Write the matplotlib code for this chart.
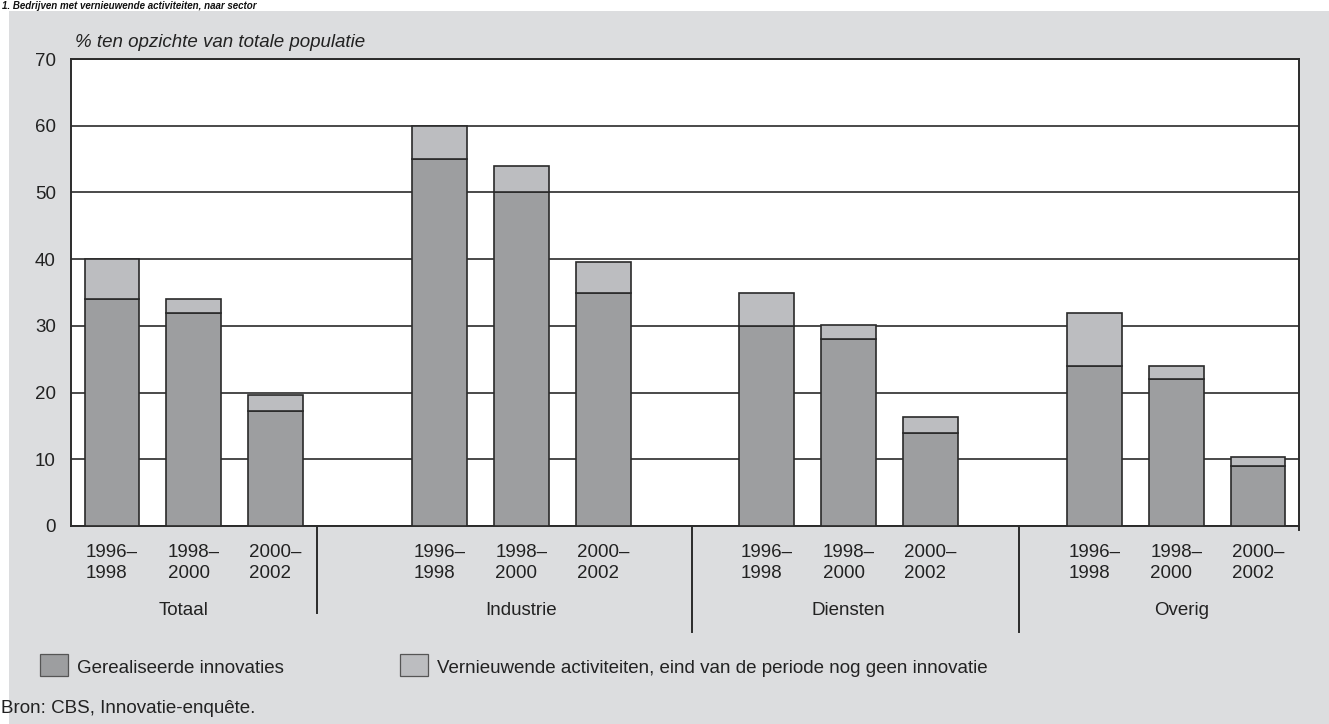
import matplotlib
matplotlib.use("Agg")
import matplotlib.pyplot as plt
from matplotlib.patches import Rectangle
from matplotlib.lines import Line2D
import numpy as np

plt.rcParams['font.family'] = ['Liberation Sans', 'DejaVu Sans']

# Data: share of firms (% of total population) per sector and period
sectors = ["Totaal", "Industrie", "Diensten", "Overig"]
periods = ["1996–\n1998", "1998–\n2000", "2000–\n2002"]
realised = {  # Gerealiseerde innovaties
    "Totaal":    [34, 32, 17.2],
    "Industrie": [55, 50, 35],
    "Diensten":  [30, 28, 14],
    "Overig":    [24, 22, 9],
}
ongoing = {  # Vernieuwende activiteiten, nog geen innovatie
    "Totaal":    [6, 2, 2.5],
    "Industrie": [5, 4, 4.5],
    "Diensten":  [5, 2.2, 2.3],
    "Overig":    [8, 2, 1.4],
}
yticks = [0, 10, 20, 30, 40, 50, 60, 70]

# Layout helpers
W, H = 1329, 724
dark_col = "#9d9ea0"
light_col = "#bcbdc0"
edge_col = "#2a2a2a"
panel_col = "#dcdddf"
fs = 13.5

fig = plt.figure(figsize=(W / 100, H / 100), dpi=100)
fig.patch.set_facecolor("white")

# grey background panel
fig.patches.append(Rectangle((9 / W, 0), 1 - 9 / W, 1 - 11 / H,
                             transform=fig.transFigure, facecolor=panel_col,
                             edgecolor="none", zorder=-5))

ax = fig.add_axes([71 / W, 198 / H, 1228 / W, 467 / H])
ax.set_zorder(1)
ax.set_facecolor("white")

group_gap = 4
positions, dark_vals, light_vals, labels = [], [], [], []
for g, s in enumerate(sectors):
    for i in range(len(periods)):
        positions.append(g * group_gap + i)
        dark_vals.append(realised[s][i])
        light_vals.append(ongoing[s][i])
        labels.append(periods[i])
positions = np.array(positions)
dark_vals = np.array(dark_vals)
light_vals = np.array(light_vals)

bw = 0.67
ax.bar(positions, dark_vals, width=bw, color=dark_col, edgecolor=edge_col,
       linewidth=1.2, zorder=3)
ax.bar(positions, light_vals, bottom=dark_vals, width=bw, color=light_col,
       edgecolor=edge_col, linewidth=1.2, zorder=3)

ax.set_xlim(-0.5, 14.5)
ax.set_ylim(0, 70)
ax.set_yticks(yticks)
ax.set_yticklabels([str(v) for v in yticks], fontsize=fs, color="#222222")
ax.tick_params(axis="y", length=0, pad=11)
ax.set_xticks(positions)
ax.set_xticklabels(labels, fontsize=fs, color="#222222", linespacing=1.3,
                   multialignment="left")
ax.tick_params(axis="x", length=0, pad=13)

ax.yaxis.grid(True, color="#2b2b2b", linewidth=1.2, zorder=1)
ax.set_axisbelow(True)
for side in ["left", "top", "right", "bottom"]:
    ax.spines[side].set_color("#2b2b2b")
    ax.spines[side].set_linewidth(1.4)

# right spine runs slightly below the baseline
ax.add_line(Line2D([1, 1], [0, -0.008], transform=ax.transAxes, color="#2b2b2b",
                   linewidth=1.4, clip_on=False))

# group separators and group names
xt = ax.get_xaxis_transform()
sep_x = [2.5, 7.08, 11.08]
sep_bottom = [-0.186, -0.227, -0.227]
for x, yb in zip(sep_x, sep_bottom):
    ax.add_line(Line2D([x, x], [0, yb], transform=xt, color="#2b2b2b",
                       linewidth=1.4, clip_on=False))
name_x = [0.88, 5.0, 9.0, 13.07]
for x, s in zip(name_x, sectors):
    ax.text(x, -0.18, s, transform=xt, ha="center", va="center",
            fontsize=fs, color="#222222")

# axis caption
fig.text(75 / W, 1 - 47 / H, "% ten opzichte van totale populatie",
         fontsize=fs, style="italic", color="#222222", va="baseline")

# figure title in the white strip above the panel
fig.text(2 / W, 1 - 9 / H, "1. Bedrijven met vernieuwende activiteiten, naar sector",
         fontsize=7, weight="bold", style="italic", color="#111111",
         va="baseline")

# legend
leg_items = [(40, dark_col, "Gerealiseerde innovaties"),
             (400, light_col, "Vernieuwende activiteiten, eind van de periode nog geen innovatie")]
for x0, col, txt in leg_items:
    fig.patches.append(Rectangle((x0 / W, 1 - 676 / H), 28 / W, 22 / H,
                                 transform=fig.transFigure, facecolor=col,
                                 edgecolor="#555555", linewidth=0.9, zorder=2))
    fig.text((x0 + 37) / W, 1 - 673 / H, txt, fontsize=fs, color="#222222",
             va="baseline")

fig.text(1 / W, 1 - 713 / H, "Bron: CBS, Innovatie-enquête.", fontsize=fs,
         color="#222222", va="baseline")

fig.savefig("out.png", dpi=100)
